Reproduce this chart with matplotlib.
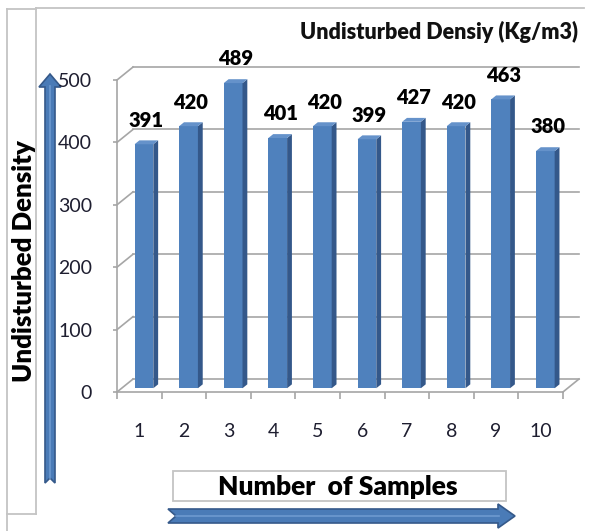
import numpy as np
import matplotlib
matplotlib.use("Agg")
import matplotlib.pyplot as plt
from matplotlib.patches import Polygon, Rectangle

plt.rcParams['font.family'] = ['Lato', 'DejaVu Sans']

samples = [1, 2, 3, 4, 5, 6, 7, 8, 9, 10]
density = [391, 420, 489, 401, 420, 399, 427, 420, 463, 380]
yticks = [0, 100, 200, 300, 400, 500]

title = "Undisturbed Densiy (Kg/m3)"
ylabel = "Undisturbed Density"
xlabel = "Number  of Samples"

# fake 3d: back wall shift (category units, value units)
DX = 0.36
DY = 20.8
f = 0.29   # depth of bar front face
d = 0.30   # bar depth
w = 0.42   # bar width

front = '#4F81BD'
side = '#34588A'
top = '#6592CA'
grid = '#A6A6A6'
arrow_c = '#4A7BB7'
arrow_e = '#35598A'

fig = plt.figure(figsize=(5.9, 5.31), dpi=100)

# overlay in pixel coords for frame, arrows, boxes, labels
ov = fig.add_axes([0, 0, 1, 1], zorder=0)
ov.set_xlim(0, 590)
ov.set_ylim(531, 0)
ov.axis('off')

fc = '#C4C4C4'
ov.plot([36, 584], [8, 8], color=fc, lw=1.3)
ov.plot([7, 7], [9, 531], color=fc, lw=1.3)
ov.plot([36, 36], [8, 514], color=fc, lw=1.3)
ov.plot([7, 36], [9, 9], color=fc, lw=1.3)
ov.plot([7, 36], [514, 514], color=fc, lw=1.3)

ov.text(24, 261, ylabel, rotation=90, ha='center', va='center',
        fontsize=18.5, fontweight='heavy', color='black')
ov.text(578, 32, title, ha='right', va='center', fontsize=15.5,
        fontweight='heavy', color='#111111')

ov.add_patch(Rectangle((173, 471), 333, 30, facecolor='white',
                       edgecolor='#C4C4C4', lw=1.3))
ov.text(338, 487, xlabel, ha='center', va='center', fontsize=19,
        fontweight='heavy', color='black')

# arrows
varrow = [(45, 483), (50, 478), (55, 483), (55, 87), (61, 87), (50, 74),
          (39, 87), (45, 87)]
ov.add_patch(Polygon(varrow, closed=True, facecolor=arrow_c,
                     edgecolor=arrow_e, lw=1.2))
ov.plot([50, 50], [478, 86], color='#6E9AD0', lw=1.2)
harrow = [(168, 509), (498, 509), (498, 504), (515, 516), (498, 528),
          (498, 523), (168, 523), (176, 516)]
ov.add_patch(Polygon(harrow, closed=True, facecolor=arrow_c,
                     edgecolor=arrow_e, lw=1.2))
ov.plot([176, 499], [516, 516], color='#6E9AD0', lw=1.2)

# main chart axes
ax = fig.add_axes([117/590, (531-392)/531, 466/590, 327.6/531], zorder=1)
ax.patch.set_visible(False)
ax.set_xlim(0, 10.45)
ax.set_ylim(0, 525)
n = len(samples)

for s in ['top', 'right']:
    ax.spines[s].set_visible(False)
ax.spines['left'].set_bounds(0, 500)
ax.spines['bottom'].set_bounds(0, n)
ax.spines['left'].set_color(grid)
ax.spines['bottom'].set_color(grid)
ax.spines['left'].set_linewidth(1.2)
ax.spines['bottom'].set_linewidth(1.2)

# walls and floor
for v in yticks:
    ax.plot([0, DX], [v, v + DY], color=grid, lw=1.2, clip_on=False)
    ax.plot([DX, n + DX], [v + DY, v + DY], color=grid, lw=1.2, clip_on=False)
ax.plot([n, n + DX], [0, DY], color=grid, lw=1.2, clip_on=False)

ax.set_yticks(yticks)
ax.set_yticklabels([str(v) for v in yticks])
ax.tick_params(axis='y', length=3, width=1.2, color=grid, pad=15,
               labelsize=14, labelcolor='#1E1E30')

ax.set_xticks(np.arange(n + 1))
ax.set_xticklabels([])
ax.set_xticks(np.arange(n) + 0.5, minor=True)
ax.set_xticklabels([str(s) for s in samples], minor=True)
ax.tick_params(axis='x', which='major', length=5, width=1.2, color=grid)
ax.tick_params(axis='x', which='minor', length=0, pad=22, labelsize=14,
               labelcolor='#1E1E30')

# bars
x0 = np.arange(n) + 0.5 - w / 2 + f * DX
b0 = f * DY
ax.bar(x0, density, width=w, bottom=b0, align='edge', color=front,
       edgecolor='none', zorder=3)
for xl, v in zip(x0, density):
    xr = xl + w
    ax.add_patch(Polygon([(xr, b0), (xr + d * DX, b0 + d * DY),
                          (xr + d * DX, b0 + v + d * DY), (xr, b0 + v)],
                         closed=True, facecolor=side, edgecolor='none', zorder=3))
    ax.add_patch(Polygon([(xl, b0 + v), (xr, b0 + v),
                          (xr + d * DX, b0 + v + d * DY),
                          (xl + d * DX, b0 + v + d * DY)],
                         closed=True, facecolor=top, edgecolor='none', zorder=3))
    ax.text(xl + w / 2 + d * DX / 2, v + b0 + d * DY + 22, str(v),
            ha='center', va='baseline', fontsize=14.5, fontweight='heavy',
            color='black', zorder=4)

fig.savefig('out.png', dpi=100)
